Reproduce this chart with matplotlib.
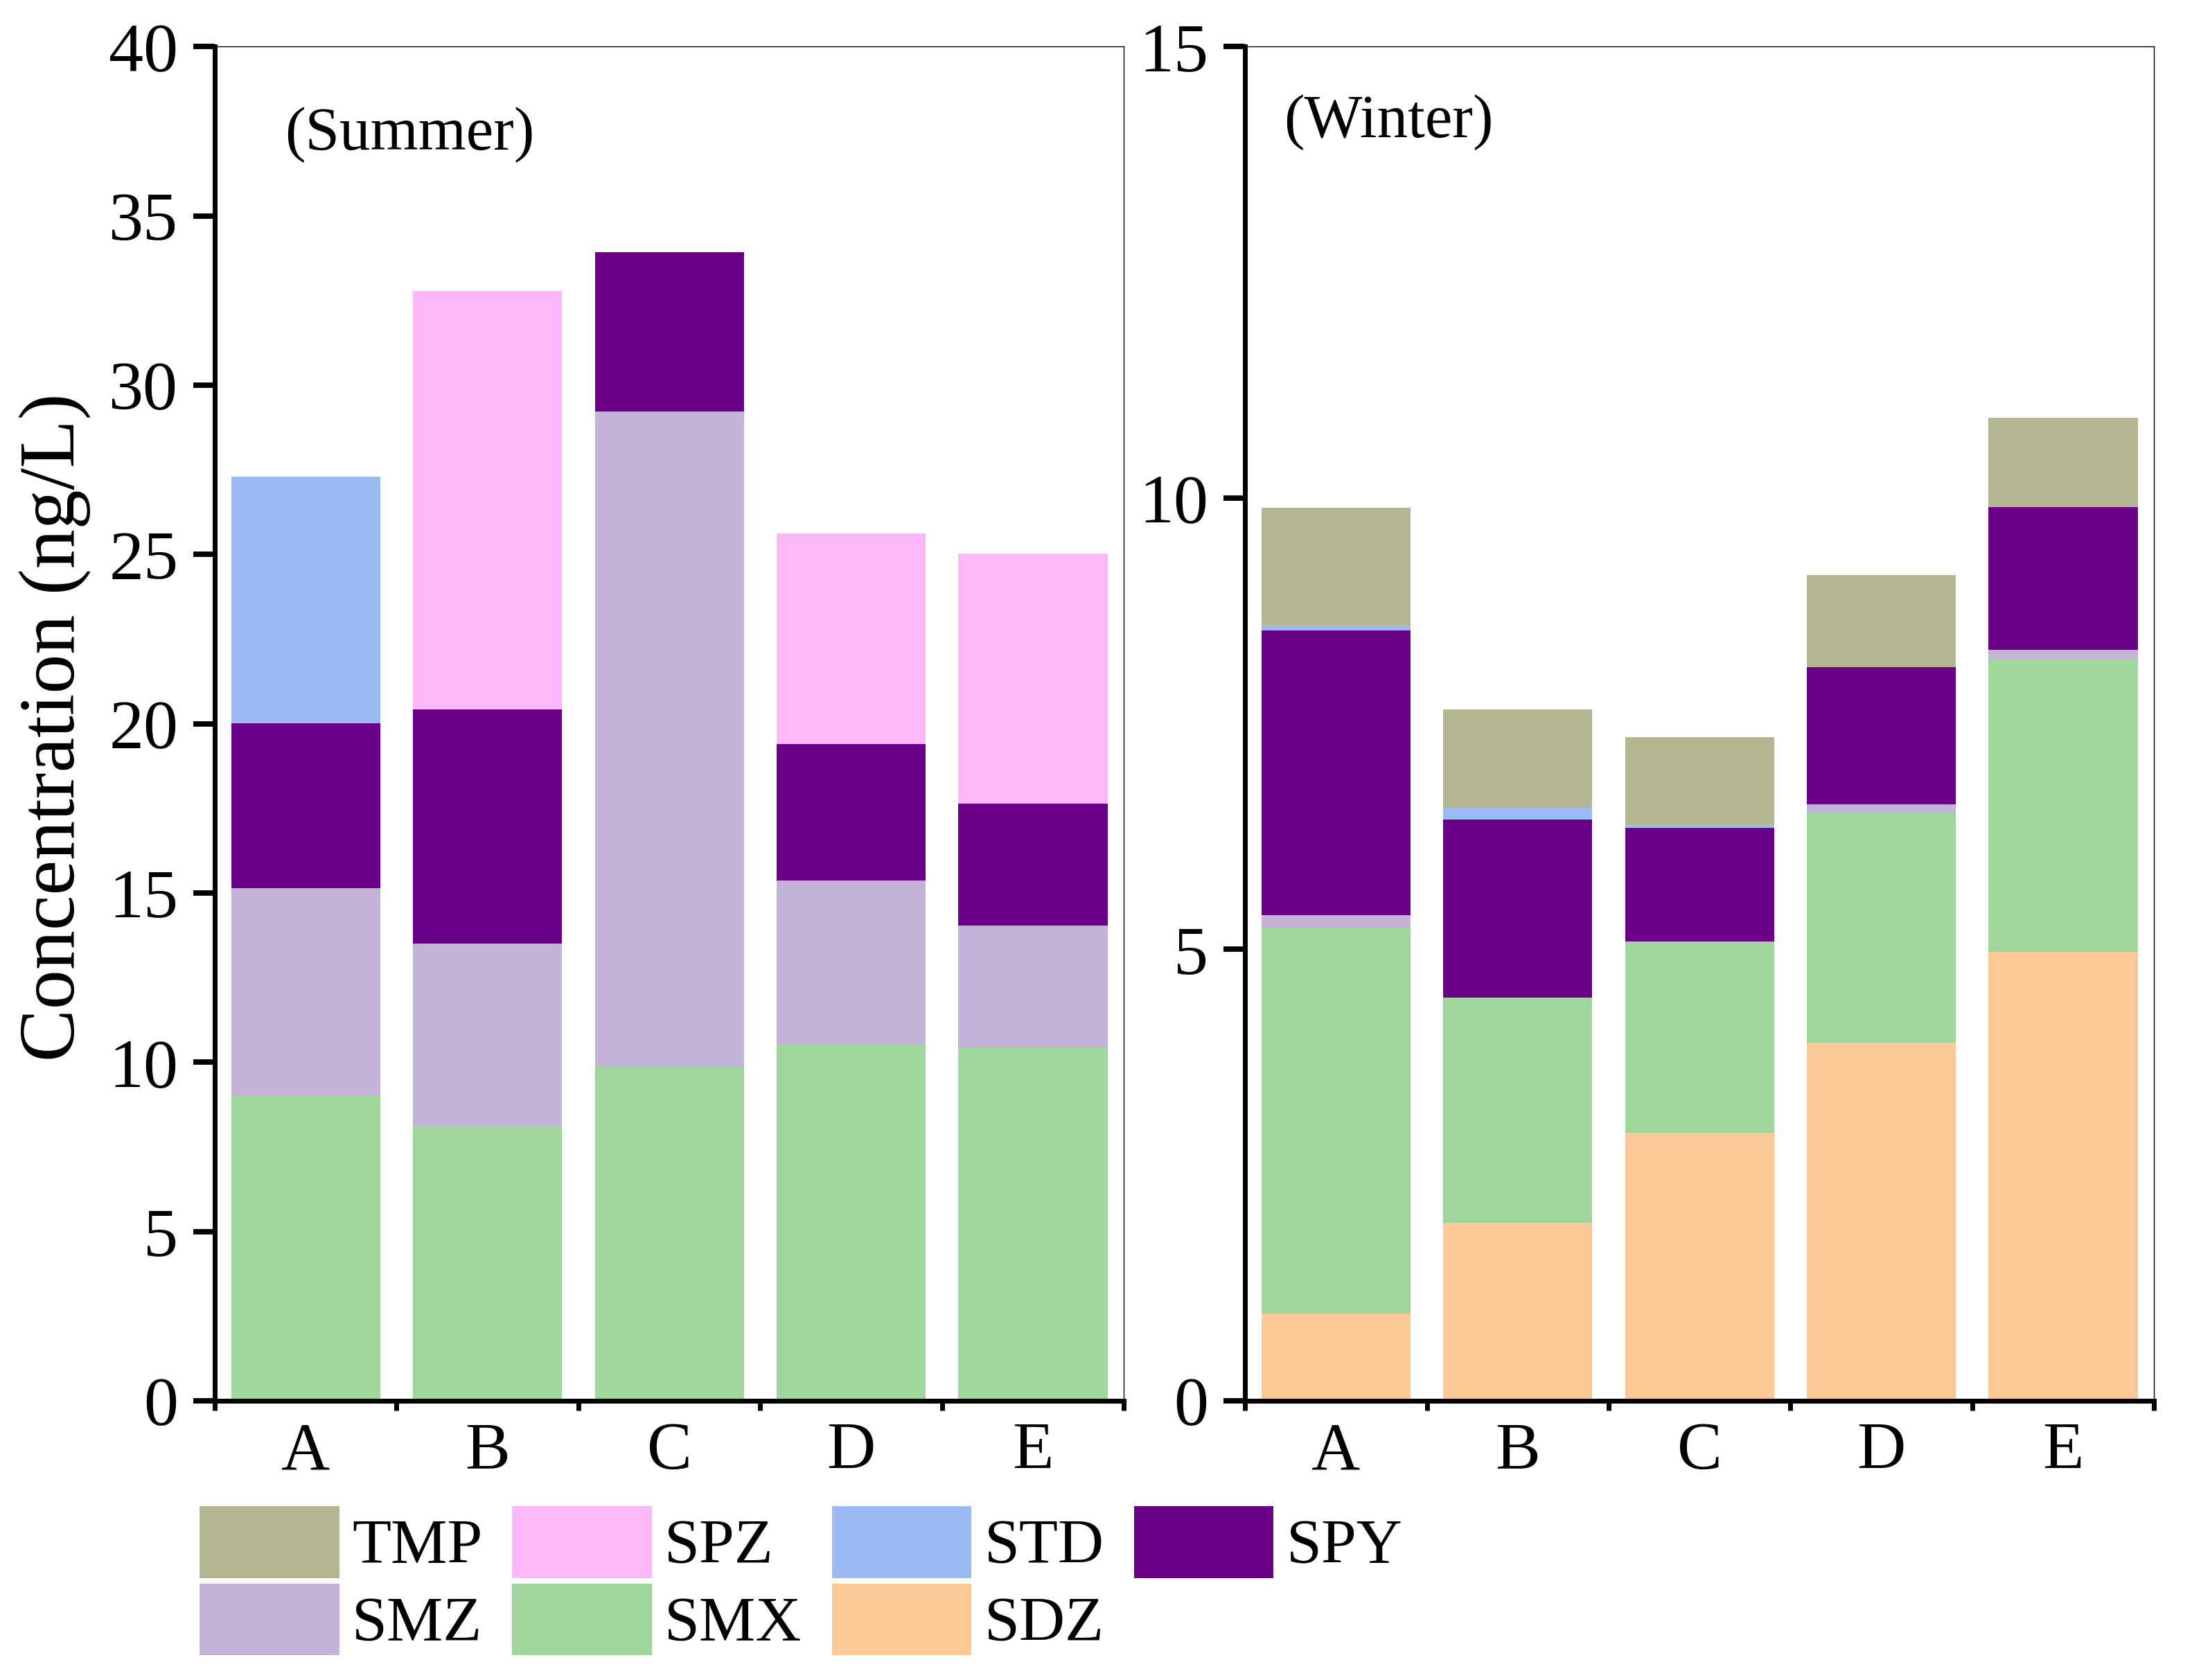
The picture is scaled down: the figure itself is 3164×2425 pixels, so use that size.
import numpy as np
import matplotlib
matplotlib.use("Agg")
import matplotlib.pyplot as plt
from matplotlib.patches import Patch
from matplotlib.ticker import MultipleLocator, FixedLocator

# --- Data (ng/L) ---
SITES = ["A", "B", "C", "D", "E"]
# stacking order, bottom to top
COMPOUNDS = ["SDZ", "SMX", "SMZ", "SPY", "STD", "SPZ", "TMP"]

summer_sdz = [0, 0, 0, 0, 0]
summer_smx = [9.0, 8.13, 9.87, 10.53, 10.44]
summer_smz = [6.15, 5.37, 19.36, 4.83, 3.60]
summer_spy = [4.87, 6.93, 4.70, 4.04, 3.59]
summer_std = [7.27, 0, 0, 0, 0]
summer_spz = [0, 12.35, 0, 6.23, 7.39]
summer_tmp = [0, 0, 0, 0, 0]

winter_sdz = [0.97, 1.97, 2.97, 3.97, 4.97]
winter_smx = [4.27, 2.50, 2.12, 2.54, 3.25]
winter_smz = [0.14, 0, 0, 0.10, 0.10]
winter_spy = [3.15, 1.97, 1.26, 1.52, 1.58]
winter_std = [0.06, 0.13, 0.03, 0, 0]
winter_spz = [0, 0, 0, 0, 0]
winter_tmp = [1.30, 1.09, 0.97, 1.02, 0.99]

COLORS = {
    "TMP": "#b3b691",
    "SPZ": "#fcb8f8",
    "STD": "#9cbbf2",
    "SPY": "#6a0088",
    "SMZ": "#c3b3d6",
    "SMX": "#9ed69c",
    "SDZ": "#fbc898",
}
# legend is filled column by column, so this gives rows TMP SPZ STD SPY / SMZ SMX SDZ
LEGEND_ORDER = ["TMP", "SMZ", "SPZ", "SMX", "STD", "SDZ", "SPY"]

OUTPUT_FILE = "out.png"
# ---------------------

plt.rcParams["font.family"] = ["Liberation Serif", "DejaVu Serif"]


def draw_panel(ax, series, ymax, tag, tag_xy):
    x = np.arange(len(SITES))
    bottom = np.zeros(len(SITES))
    for name in COMPOUNDS:
        vals = np.array(series[name], dtype=float)
        ax.bar(x, vals, width=0.82, bottom=bottom, color=COLORS[name], linewidth=0)
        bottom += vals

    ax.set_xlim(-0.5, len(SITES) - 0.5)
    ax.set_ylim(0, ymax)
    ax.yaxis.set_major_locator(MultipleLocator(5))

    # labels at bar centres without marks, short marks between bars
    ax.set_xticks(x)
    ax.set_xticklabels(SITES)
    ax.xaxis.set_minor_locator(FixedLocator(np.arange(-0.5, len(SITES), 1.0)))
    ax.tick_params(axis="x", which="major", length=0, pad=11, labelsize=35)
    ax.tick_params(axis="x", which="minor", direction="out", length=5, width=2.5)
    ax.tick_params(axis="y", which="major", direction="out", length=11, width=2.8,
                   pad=8, labelsize=36)

    for side in ["left", "bottom"]:
        ax.spines[side].set_linewidth(2.5)
    for side in ["top", "right"]:
        ax.spines[side].set_linewidth(0.5)

    ax.text(tag_xy[0], tag_xy[1], tag, transform=ax.transAxes, fontsize=32,
            ha="left", va="center")


fig = plt.figure(figsize=(15.82, 12.125), dpi=200)
ax1 = fig.add_axes([0.098, 0.1662, 0.4147, 0.806])
ax2 = fig.add_axes([0.568, 0.1662, 0.4147, 0.806])

summer = {"SDZ": summer_sdz, "SMX": summer_smx, "SMZ": summer_smz, "SPY": summer_spy,
          "STD": summer_std, "SPZ": summer_spz, "TMP": summer_tmp}
winter = {"SDZ": winter_sdz, "SMX": winter_smx, "SMZ": winter_smz, "SPY": winter_spy,
          "STD": winter_std, "SPZ": winter_spz, "TMP": winter_tmp}

draw_panel(ax1, summer, 40, "(Summer)", (0.077, 0.935))
draw_panel(ax2, winter, 15, "(Winter)", (0.043, 0.944))

fig.text(0.025, 0.567, "Concentration (ng/L)", rotation=90, fontsize=41,
         ha="center", va="center")

handles = [Patch(facecolor=COLORS[n], edgecolor="none", label=n) for n in LEGEND_ORDER]
fig.legend(handles=handles, ncol=4, loc="upper left", bbox_to_anchor=(0.091, 0.1035),
           frameon=False, fontsize=33, handlelength=2.2, handleheight=1.36,
           handletextpad=0.2, columnspacing=0.47, labelspacing=0.09,
           borderpad=0, borderaxespad=0)

fig.savefig(OUTPUT_FILE, dpi=200)
